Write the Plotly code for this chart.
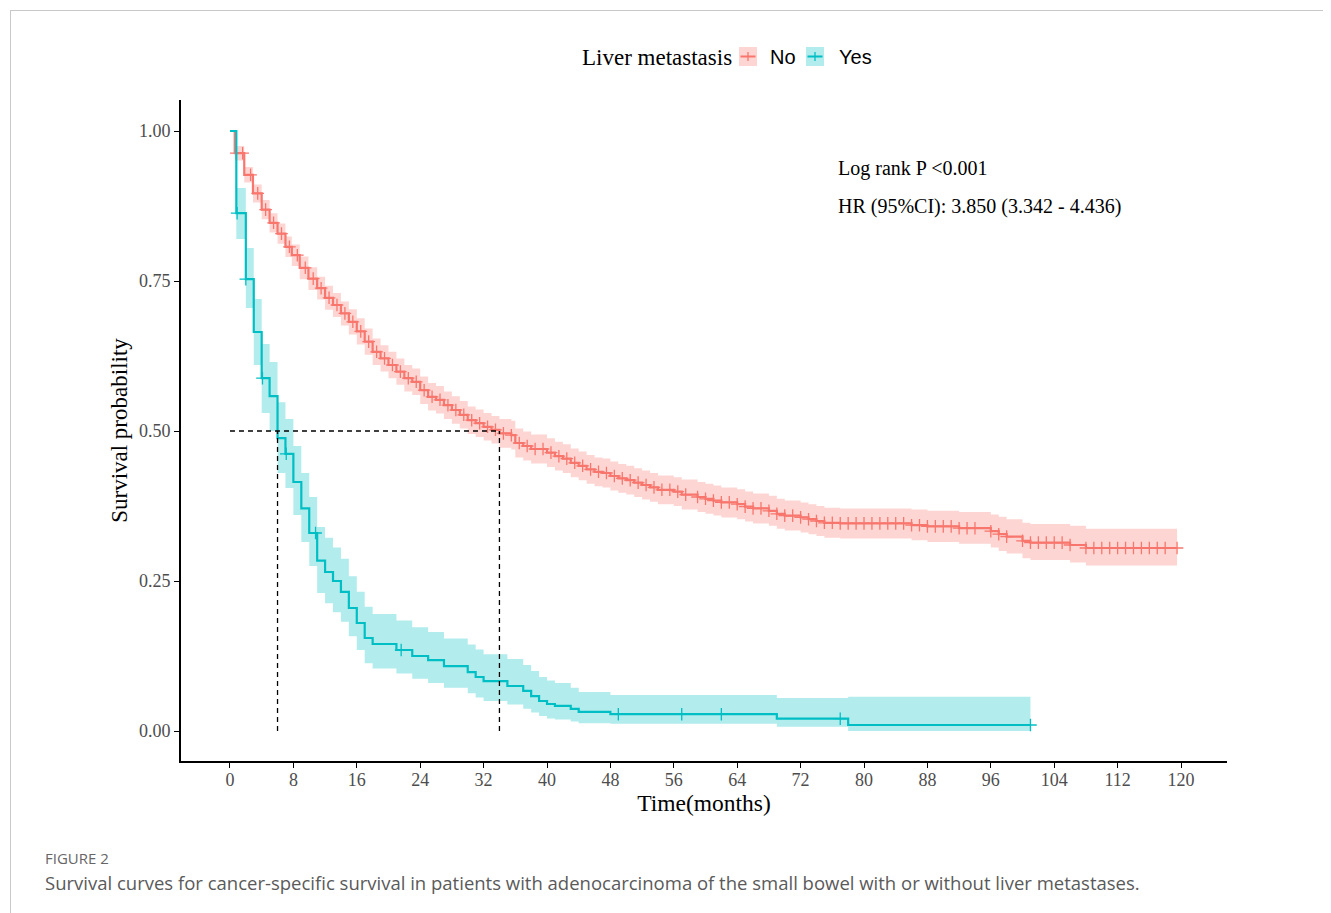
import numpy as np
import plotly.graph_objects as go

# ---------------- data ----------------
no_time = [0, 0.6, 1.8, 2.9, 4, 5, 6, 7, 7.8, 8.8, 9.9, 11, 12, 13, 14, 15, 16, 17, 18, 19,
           20, 21, 22, 23, 24, 25, 26, 27, 28, 29, 30, 31, 32, 33, 34, 35.5, 36, 37, 38, 40,
           41, 42, 43, 44, 45, 46, 47, 48, 49, 50, 51, 52, 53, 54, 56, 57, 59, 60, 61, 62,
           64, 65, 66, 68, 69, 70, 72, 73, 74, 75, 77, 86, 88, 92, 96, 97, 98, 100, 101, 106, 108]
no_surv = [1.0, 0.963, 0.927, 0.896, 0.869, 0.847, 0.829, 0.807, 0.793, 0.772, 0.754, 0.738,
           0.722, 0.71, 0.696, 0.682, 0.666, 0.649, 0.632, 0.621, 0.61, 0.599, 0.588, 0.582,
           0.568, 0.557, 0.552, 0.543, 0.535, 0.527, 0.518, 0.513, 0.507, 0.502, 0.496, 0.493,
           0.48, 0.475, 0.47, 0.464, 0.458, 0.454, 0.447, 0.442, 0.436, 0.432, 0.43, 0.425,
           0.421, 0.418, 0.414, 0.41, 0.406, 0.402, 0.399, 0.394, 0.39, 0.387, 0.384, 0.381,
           0.378, 0.374, 0.371, 0.367, 0.362, 0.359, 0.356, 0.353, 0.35, 0.347, 0.346, 0.343,
           0.341, 0.338, 0.333, 0.328, 0.324, 0.317, 0.314, 0.31, 0.305]
no_lower = [1.0, 0.951, 0.914, 0.881, 0.853, 0.831, 0.812, 0.79, 0.775, 0.753, 0.735, 0.719,
            0.702, 0.69, 0.676, 0.661, 0.644, 0.627, 0.61, 0.599, 0.588, 0.577, 0.566, 0.56,
            0.545, 0.534, 0.529, 0.52, 0.512, 0.504, 0.495, 0.49, 0.484, 0.479, 0.472, 0.469,
            0.456, 0.451, 0.446, 0.44, 0.434, 0.43, 0.423, 0.418, 0.412, 0.408, 0.406, 0.401,
            0.397, 0.394, 0.39, 0.386, 0.382, 0.378, 0.375, 0.369, 0.365, 0.362, 0.359, 0.356,
            0.353, 0.349, 0.346, 0.342, 0.337, 0.334, 0.331, 0.328, 0.325, 0.322, 0.321, 0.318,
            0.315, 0.312, 0.306, 0.3, 0.296, 0.288, 0.285, 0.281, 0.276]
no_upper = [1.0, 0.975, 0.94, 0.911, 0.885, 0.863, 0.846, 0.824, 0.811, 0.791, 0.773, 0.757,
            0.742, 0.73, 0.716, 0.703, 0.688, 0.671, 0.654, 0.643, 0.632, 0.621, 0.61, 0.604,
            0.591, 0.58, 0.575, 0.566, 0.558, 0.55, 0.541, 0.536, 0.53, 0.525, 0.52, 0.517,
            0.504, 0.499, 0.494, 0.488, 0.482, 0.478, 0.471, 0.466, 0.46, 0.456, 0.454, 0.449,
            0.445, 0.442, 0.438, 0.434, 0.43, 0.426, 0.423, 0.419, 0.415, 0.412, 0.409, 0.406,
            0.403, 0.399, 0.396, 0.392, 0.387, 0.384, 0.381, 0.378, 0.375, 0.372, 0.371, 0.369,
            0.367, 0.365, 0.361, 0.357, 0.353, 0.347, 0.345, 0.342, 0.337]
no_end = 119.5
no_censor = [0.8, 1.6, 2.6, 3.5, 4.5, 5.5, 6.5, 7.5, 8.5, 9.5, 10.5, 11.5, 12.5, 13.5, 14.5,
             15.5, 16.5, 17.5, 18.5, 19.5, 20.5, 21.5, 22.5, 23.5, 24.5, 25.5, 26.5, 27.5, 28.5,
             29.5, 30.5, 31.5, 32.5, 33.5, 34.5, 35.5, 36.5, 37.5, 38.5, 39.5, 40.5, 41.5, 42.5,
             43.5, 44.5, 45.5, 46.5, 47.5, 48.5, 49.5, 50.5, 51.5, 52.5, 53.5, 54.5, 55.5, 56.5,
             57.5, 59, 60, 61, 62, 63, 64, 65, 66, 67, 68, 69, 70, 71, 72, 73, 74, 75, 76, 77,
             78, 79, 80, 81, 82, 83, 84, 85, 86, 87, 88, 89, 90, 91, 92, 93, 94, 96, 97, 98, 100,
             101, 102, 103, 104, 105, 106, 108, 109, 110, 111, 112, 113, 114, 115, 116, 117,
             118, 119.5]

yes_time = [0, 0.8, 2, 3, 4, 5, 6, 7, 8, 9, 10, 11, 12, 13, 14, 15, 16, 17, 18, 21, 23, 25,
            27, 30, 31, 32, 35, 37, 38, 39, 40, 41, 43, 44, 48, 69, 78]
yes_surv = [1.0, 0.863, 0.753, 0.665, 0.588, 0.558, 0.488, 0.462, 0.415, 0.371, 0.33, 0.284,
            0.265, 0.25, 0.232, 0.205, 0.18, 0.155, 0.145, 0.135, 0.125, 0.118, 0.108, 0.098,
            0.09, 0.083, 0.075, 0.067, 0.058, 0.05, 0.045, 0.042, 0.037, 0.032, 0.028, 0.0205, 0.01]
yes_lower = [1.0, 0.82, 0.705, 0.61, 0.53, 0.5, 0.43, 0.405, 0.36, 0.315, 0.275, 0.23, 0.213,
             0.198, 0.182, 0.158, 0.135, 0.113, 0.104, 0.096, 0.087, 0.08, 0.072, 0.063, 0.056,
             0.05, 0.044, 0.037, 0.031, 0.025, 0.021, 0.019, 0.016, 0.013, 0.012, 0.007, 0.0]
yes_upper = [1.0, 0.905, 0.805, 0.72, 0.645, 0.615, 0.548, 0.52, 0.475, 0.43, 0.39, 0.34, 0.322,
             0.306, 0.287, 0.258, 0.232, 0.207, 0.195, 0.184, 0.173, 0.165, 0.154, 0.144, 0.136,
             0.128, 0.12, 0.11, 0.1, 0.09, 0.084, 0.08, 0.072, 0.065, 0.06, 0.055, 0.057]
yes_end = 101
yes_censor = [0.9, 2.0, 4.1, 7.1, 10.8, 21.6, 49, 57, 62, 77, 101]

median_no = 34
median_yes = 6

x_ticks = [0, 8, 16, 24, 32, 40, 48, 56, 64, 72, 80, 88, 96, 104, 112, 120]
y_ticks = [0, 0.25, 0.5, 0.75, 1.0]
y_tick_text = ["0.00", "0.25", "0.50", "0.75", "1.00"]

RED = "#F8766D"
TEAL = "#00BFC4"
RED_FILL = "rgba(248,118,109,0.30)"
TEAL_FILL = "rgba(0,191,196,0.30)"

SERIF = "Liberation Serif, Times New Roman, serif"
SANS = "Liberation Sans, Arial, sans-serif"

W, H = 1331, 913
OFF = 8  # page body margin offset
# target plot-area edges in screen pixels
SL, SR, ST, SB = 181, 1227, 100, 761
PL, PR, PT, PB = SL - OFF, SR - OFF, ST - OFF, SB - OFF


def px(xs):
    return (xs - OFF - PL) / (PR - PL)


def py(ys):
    return (PB - (ys - OFF)) / (PB - PT)


def extend(times, vals, end):
    return list(times) + [end], list(vals) + [vals[-1]]


def step_value(times, vals, t):
    i = np.searchsorted(np.array(times), t, side="right") - 1
    return vals[max(i, 0)]


fig = go.Figure()


def add_group(times, surv, lower, upper, end, censor, color, fill):
    tx, lo = extend(times, lower, end)
    _, up = extend(times, upper, end)
    _, sv = extend(times, surv, end)
    fig.add_trace(go.Scatter(x=tx, y=lo, mode="lines", line=dict(width=0, shape="hv", color=color),
                             showlegend=False, hoverinfo="skip"))
    fig.add_trace(go.Scatter(x=tx, y=up, mode="lines", line=dict(width=0, shape="hv", color=color),
                             fill="tonexty", fillcolor=fill, showlegend=False, hoverinfo="skip"))
    fig.add_trace(go.Scatter(x=tx, y=sv, mode="lines", line=dict(width=2.2, shape="hv", color=color),
                             showlegend=False))
    cy = [step_value(times, surv, c) for c in censor]
    fig.add_trace(go.Scatter(x=censor, y=cy, mode="markers",
                             marker=dict(symbol="cross-thin", size=9, line=dict(width=1.3, color=color)),
                             showlegend=False))


add_group(no_time, no_surv, no_lower, no_upper, no_end, no_censor, RED, RED_FILL)
add_group(yes_time, yes_surv, yes_lower, yes_upper, yes_end, yes_censor, TEAL, TEAL_FILL)

# median lines
dash = dict(color="black", width=1.3, dash="5px,4px")
fig.add_shape(type="line", x0=0, x1=median_no, y0=0.5, y1=0.5, line=dash, xref="x", yref="y")
fig.add_shape(type="line", x0=median_yes, x1=median_yes, y0=0, y1=0.5, line=dash, xref="x", yref="y")
fig.add_shape(type="line", x0=median_no, x1=median_no, y0=0, y1=0.5, line=dash, xref="x", yref="y")

# annotations in plot
fig.add_annotation(x=76.5, y=0.938, xref="x", yref="y", text="Log rank P <0.001", showarrow=False,
                   xanchor="left", yanchor="middle", font=dict(family=SERIF, size=20, color="black"))
fig.add_annotation(x=76.5, y=0.875, xref="x", yref="y", text="HR (95%CI): 3.850 (3.342 - 4.436)",
                   showarrow=False, xanchor="left", yanchor="middle",
                   font=dict(family=SERIF, size=20, color="black"))

# manual legend
fig.add_annotation(x=px(734), y=py(57), xref="paper", yref="paper", text="Liver metastasis", showarrow=False,
                   xanchor="right", yanchor="middle", font=dict(family=SERIF, size=23, color="black"))
for (x0, color, fill, label, tx) in [(739, RED, RED_FILL, "No", 768), (806, TEAL, TEAL_FILL, "Yes", 837)]:
    fig.add_shape(type="rect", xref="paper", yref="paper", x0=px(x0), x1=px(x0 + 18), y0=py(66), y1=py(47),
                  fillcolor=fill, line=dict(width=0))
    fig.add_shape(type="line", xref="paper", yref="paper", x0=px(x0 + 1.5), x1=px(x0 + 16.5), y0=py(56.5),
                  y1=py(56.5), line=dict(color=color, width=2))
    fig.add_shape(type="line", xref="paper", yref="paper", x0=px(x0 + 9), x1=px(x0 + 9), y0=py(52),
                  y1=py(61), line=dict(color=color, width=1.3))
    fig.add_annotation(x=px(tx), y=py(57), xref="paper", yref="paper", text=label, showarrow=False,
                       xanchor="left", yanchor="middle", font=dict(family=SANS, size=20, color="black"))

# page frame lines
fig.add_shape(type="line", xref="paper", yref="paper", x0=px(10), x1=px(1340), y0=py(10.5), y1=py(10.5),
              line=dict(color="#c8c8c8", width=1))
fig.add_shape(type="line", xref="paper", yref="paper", x0=px(10.5), x1=px(10.5), y0=py(10), y1=py(920),
              line=dict(color="#c8c8c8", width=1))

# caption
fig.add_annotation(x=px(43), y=py(858), xref="paper", yref="paper", text="FIGURE 2", showarrow=False,
                   xanchor="left", yanchor="middle", font=dict(family="Open Sans, sans-serif", size=15, color="#666666"))
fig.add_annotation(x=px(43), y=py(882), xref="paper", yref="paper",
                   text="Survival curves for cancer-specific survival in patients with adenocarcinoma of the small bowel with or without liver metastases.",
                   showarrow=False, xanchor="left", yanchor="middle",
                   font=dict(family="Open Sans, sans-serif", size=18.5, color="#5a5a5a"))

fig.update_layout(
    width=W, height=H,
    margin=dict(l=PL, r=W - PR, t=PT, b=H - PB),
    paper_bgcolor="white", plot_bgcolor="white",
    showlegend=False,
    xaxis=dict(range=[-6.18, 125.8], tickvals=x_ticks, ticks="outside", ticklen=5, tickwidth=1.2,
               tickcolor="black", showline=True, linecolor="black", linewidth=2, showgrid=False,
               zeroline=False, tickfont=dict(family=SERIF, size=18, color="#4d4d4d"),
               ticklabelstandoff=-4,
               title=dict(text="Time(months)", font=dict(family=SERIF, size=23.5, color="black"), standoff=3)),
    yaxis=dict(range=[-0.05, 1.0517], tickvals=y_ticks, ticktext=y_tick_text, ticks="outside", ticklen=5,
               tickwidth=1.2, tickcolor="black", showline=True, linecolor="black", linewidth=2, showgrid=False,
               zeroline=False, tickfont=dict(family=SERIF, size=18, color="#4d4d4d"),
               title=dict(text="Survival probability", font=dict(family=SERIF, size=23, color="black"), standoff=5)),
)

fig.write_html("out.html")
